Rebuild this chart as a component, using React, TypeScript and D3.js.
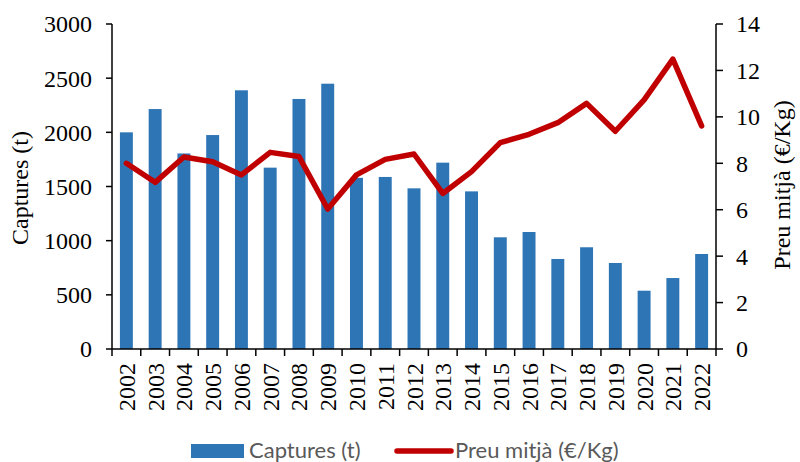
import React from "react";
import * as d3 from "d3";

const years = ["2002","2003","2004","2005","2006","2007","2008","2009","2010","2011","2012","2013","2014","2015","2016","2017","2018","2019","2020","2021","2022"];
const captures = [2000, 2215, 1805, 1975, 2388, 1674, 2308, 2449, 1580, 1588, 1483, 1720, 1455, 1031, 1080, 831, 939, 794, 538, 655, 877];
const price = [8.0, 7.18, 8.27, 8.07, 7.5, 8.47, 8.29, 6.03, 7.5, 8.17, 8.4, 6.7, 7.64, 8.89, 9.25, 9.75, 10.58, 9.38, 10.73, 12.49, 9.61];
const leftTicks = [0, 500, 1000, 1500, 2000, 2500, 3000];
const rightTicks = [0, 2, 4, 6, 8, 10, 12, 14];

const W = 800, H = 462;
const left = 112, right = 716, top = 24, bottom = 349;
const serif = "'Liberation Serif', 'Times New Roman', serif";
const sans = "Lato, 'Open Sans', sans-serif";
const BLUE = "#2E75B6";
const RED = "#C00000";

const App = () => {
    const x = d3.scaleBand().domain(years).range([left, right]).paddingInner(0.55).paddingOuter(0.275);
    const yL = d3.scaleLinear().domain([0, 3000]).range([bottom, top]);
    const yR = d3.scaleLinear().domain([0, 14]).range([bottom, top]);
    const step = x.step();
    const cx = (d: string) => (x(d) as number) + x.bandwidth() / 2;

    const line = d3.line<number>()
        .x((_, i) => cx(years[i]))
        .y(d => yR(d));

    const boundaries = d3.range(years.length + 1).map(i => left + i * step);

    return (
        <svg width={W} height={H} style={{ position: "absolute", left: 0, top: 0, background: "#fff" }}>
            {/* bars */}
            {captures.map((v, i) => (
                <rect key={years[i]} x={x(years[i])} y={yL(v)} width={x.bandwidth()} height={bottom - yL(v)} fill={BLUE} />
            ))}
            {/* price line */}
            <path d={line(price) || ""} fill="none" stroke={RED} strokeWidth={5.5} strokeLinejoin="round" strokeLinecap="round" />

            {/* left axis */}
            <line x1={left} x2={left} y1={top} y2={bottom} stroke="#000" strokeWidth={1.5} />
            {leftTicks.map(t => (
                <g key={"l" + t}>
                    <line x1={left - 6} x2={left} y1={yL(t)} y2={yL(t)} stroke="#000" strokeWidth={1.5} />
                    <text x={92} y={yL(t)} dy="0.35em" textAnchor="end" fontFamily={serif} fontSize={24}>{t}</text>
                </g>
            ))}
            {/* right axis */}
            <line x1={right} x2={right} y1={top} y2={bottom} stroke="#000" strokeWidth={1.5} />
            {rightTicks.map(t => (
                <g key={"r" + t}>
                    <line x1={right} x2={right + 7} y1={yR(t)} y2={yR(t)} stroke="#000" strokeWidth={1.5} />
                    <text x={736} y={yR(t)} dy="0.35em" textAnchor="start" fontFamily={serif} fontSize={24}>{t}</text>
                </g>
            ))}
            {/* bottom axis */}
            <line x1={left} x2={right} y1={bottom} y2={bottom} stroke="#000" strokeWidth={1.5} />
            {boundaries.map((b, i) => (
                <line key={"b" + i} x1={b} x2={b} y1={bottom} y2={bottom + 7} stroke="#000" strokeWidth={1.5} />
            ))}
            {years.map(yr => (
                <text key={"x" + yr} transform={`translate(${cx(yr) + 8.5},363) rotate(-90)`} textAnchor="end" fontFamily={serif} fontSize={24}>{yr}</text>
            ))}

            {/* axis titles */}
            <text transform="translate(28,188) rotate(-90)" textAnchor="middle" fontFamily={serif} fontSize={24}>Captures (t)</text>
            <text transform="translate(790,185) rotate(-90)" textAnchor="middle" fontFamily={serif} fontSize={24}>Preu mitjà (€/Kg)</text>

            {/* legend */}
            <rect x={191} y={444} width={53} height={14} fill={BLUE} />
            <text x={249} y={458} fontFamily={sans} fontSize={22} fill="#595959">Captures (t)</text>
            <line x1={397} x2={451} y1={451} y2={451} stroke={RED} strokeWidth={5.5} strokeLinecap="round" />
            <text x={455} y={458} fontFamily={sans} fontSize={22} fill="#595959">Preu mitjà (€/Kg)</text>
        </svg>
    );
};

export default App;
